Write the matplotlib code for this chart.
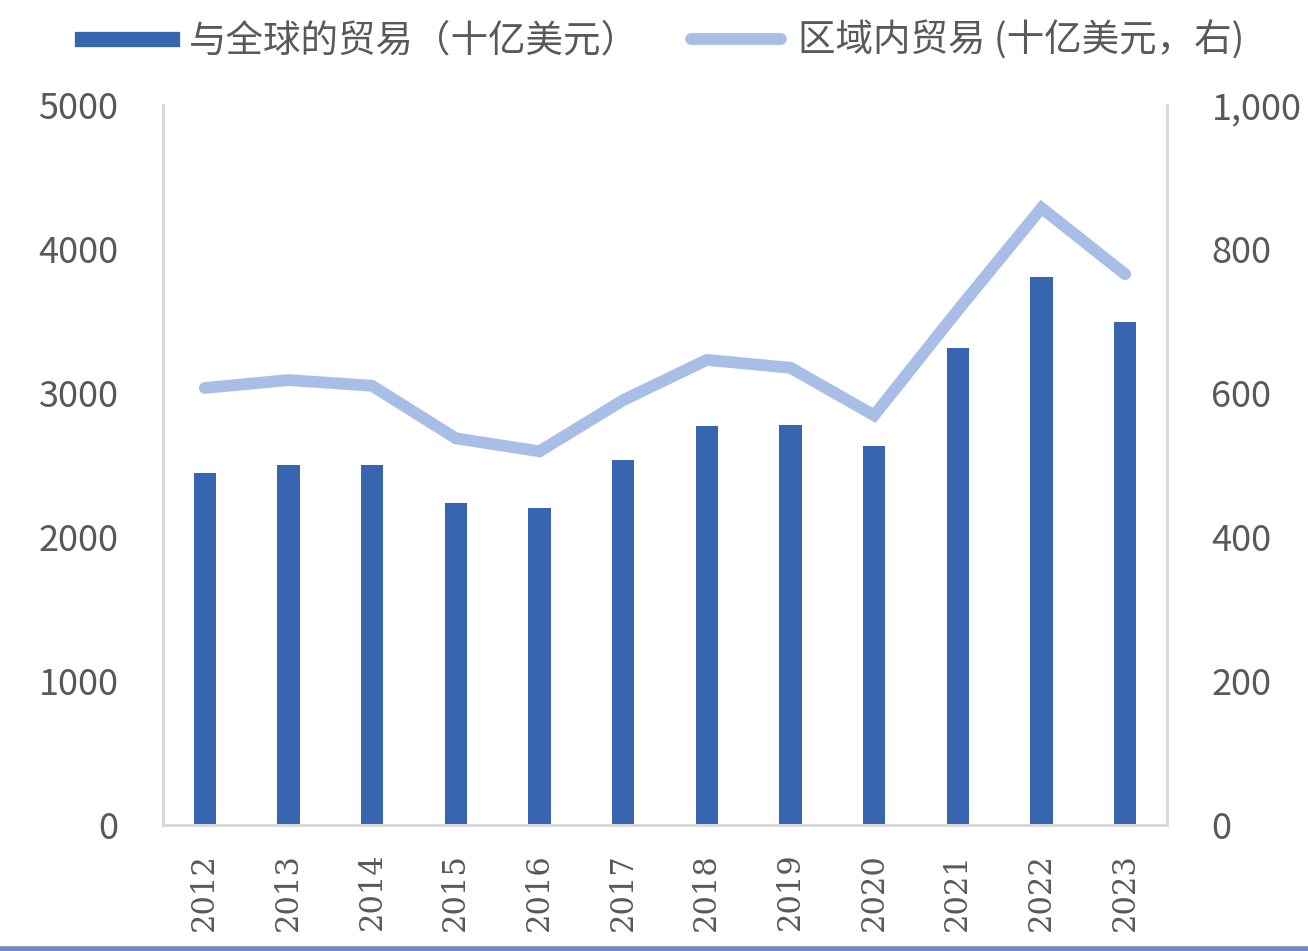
import matplotlib.pyplot as plt
from matplotlib.lines import Line2D
from matplotlib.ticker import FuncFormatter

plt.rcParams['font.family'] = ['Noto Sans CJK SC', 'DejaVu Sans']

years = ['2012', '2013', '2014', '2015', '2016', '2017',
         '2018', '2019', '2020', '2021', '2022', '2023']
global_trade = [2444, 2500, 2500, 2236, 2201, 2535, 2771, 2778, 2632, 3312, 3805, 3493]
regional_trade = [607, 618, 610, 537, 519, 590, 646, 635, 569, 715, 857, 765]

bar_color = '#3765AF'
line_color = '#A8BEE6'
text_color = '#595959'
spine_color = '#D9D9D9'

fig = plt.figure(figsize=(13.08, 9.51), dpi=100)
ax = fig.add_axes([163 / 1308, 1 - 825 / 951, (1167 - 163) / 1308, (825 - 105) / 951])
ax2 = ax.twinx()

x = range(len(years))
ax.bar(x, global_trade, width=0.27, color=bar_color, zorder=2)
ax2.plot(x, regional_trade, color=line_color, linewidth=8.5, solid_capstyle='round',
         solid_joinstyle='miter', zorder=3)

ax.set_xlim(-0.5, len(years) - 0.5)
ax.set_ylim(0, 5000)
ax2.set_ylim(0, 1000)
ax.set_yticks([0, 1000, 2000, 3000, 4000, 5000])
ax2.set_yticks([0, 200, 400, 600, 800, 1000])
ax2.yaxis.set_major_formatter(FuncFormatter(lambda v, p: f'{int(v):,}'))

ax.set_xticks(list(x))
ax.set_xticklabels(years, rotation=90, fontsize=22, color=text_color, family='DejaVu Serif')
for a in (ax, ax2):
    a.tick_params(axis='both', length=0, labelsize=26, labelcolor=text_color)
    a.spines['top'].set_visible(False)
    for s in ('left', 'right', 'bottom'):
        a.spines[s].set_color(spine_color)
        a.spines[s].set_linewidth(2)
ax.tick_params(axis='x', labelsize=22, pad=20)
ax.tick_params(axis='y', pad=32)
ax2.tick_params(axis='y', pad=32)
for lbl in ax.get_yticklabels() + ax2.get_yticklabels():
    lbl.set_fontweight('light')

handles = [Line2D([0], [0], color=bar_color, linewidth=11),
           Line2D([0], [0], color=line_color, linewidth=8.5, solid_capstyle='round')]
fig.legend(handles, ['与全球的贸易（十亿美元）', '区域内贸易 (十亿美元，右)'],
           loc='center', bbox_to_anchor=(0.507, 1 - 41 / 951), ncol=2, frameon=False,
           fontsize=27, labelcolor=text_color, handlelength=2.4, handletextpad=0.45,
           columnspacing=1.4)

fig.add_artist(Line2D([0, 1], [2.5 / 951, 2.5 / 951], color='#6E8BC0', linewidth=4,
                      transform=fig.transFigure))

fig.savefig('out.png', dpi=100)
